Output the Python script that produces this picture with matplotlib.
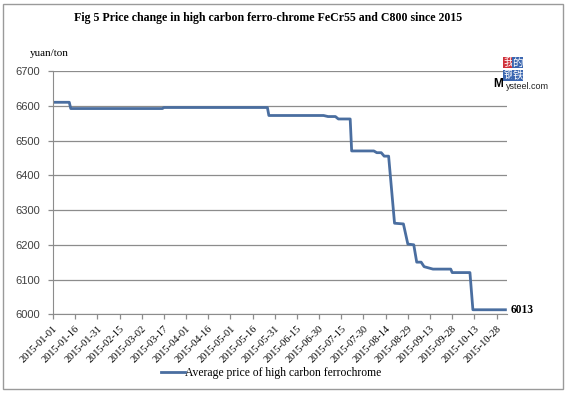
import numpy as np
import matplotlib
matplotlib.use("Agg")
import matplotlib.pyplot as plt
import matplotlib.dates as mdates
from matplotlib.patches import Rectangle

# step points of the average price (yuan/ton)
dates = ["2015-01-01", "2015-01-12", "2015-01-13", "2015-03-16", "2015-03-17",
         "2015-05-26", "2015-05-27", "2015-07-03", "2015-07-06", "2015-07-11",
         "2015-07-13", "2015-07-21", "2015-07-22", "2015-08-06", "2015-08-08",
         "2015-08-11", "2015-08-13", "2015-08-16", "2015-08-20", "2015-08-26",
         "2015-08-29", "2015-09-02", "2015-09-04", "2015-09-07", "2015-09-09",
         "2015-09-15", "2015-09-27", "2015-09-28", "2015-10-10", "2015-10-12",
         "2015-11-03"]
prices = [6610, 6610, 6592, 6592, 6595,
          6595, 6572, 6572, 6569, 6569,
          6562, 6562, 6470, 6470, 6465,
          6465, 6455, 6455, 6262, 6260,
          6202, 6200, 6150, 6150, 6137,
          6130, 6130, 6120, 6120, 6013,
          6013]
y_ticks = [6000, 6100, 6200, 6300, 6400, 6500, 6600, 6700]
series_name = "Average price of high carbon ferrochrome"
title = "Fig 5 Price change in high carbon ferro-chrome FeCr55 and C800 since 2015"

serif = ["Liberation Serif", "DejaVu Serif"]
sans = ["Liberation Sans", "DejaVu Sans"]

x = np.array(dates, dtype="datetime64[D]")
x_ticks = np.arange(np.datetime64("2015-01-01"), np.datetime64("2015-10-29"), 15)

fig = plt.figure(figsize=(5.67, 3.93), dpi=100)
ax = fig.add_axes([0.0935, 0.2003, 0.8005, 0.619])

line, = ax.plot(x, prices, color="#4a6ea0", lw=2.0, label=series_name)

ax.set_ylim(6000, 6700)
ax.set_yticks(y_ticks)
ax.set_xlim(np.datetime64("2015-01-01"), np.datetime64("2015-11-04"))
ax.set_xticks(x_ticks)
ax.xaxis.set_major_formatter(mdates.DateFormatter("%Y-%m-%d"))

ax.grid(axis="y", color="#8c8c8c", lw=0.9)
ax.set_axisbelow(True)
for s in ["top", "right"]:
    ax.spines[s].set_visible(False)
ax.spines["left"].set_color("#8c8c8c")
ax.spines["bottom"].set_color("#8c8c8c")
ax.tick_params(axis="both", color="#8c8c8c", length=3.5, width=0.9)
ax.tick_params(axis="y", pad=6)

for lab in ax.get_yticklabels():
    lab.set_family(sans)
    lab.set_fontsize(8)
    lab.set_color("#404040")
for lab in ax.get_xticklabels():
    lab.set_family(serif)
    lab.set_fontsize(7.5)
    lab.set_rotation(45)
    lab.set_ha("right")
    lab.set_rotation_mode("anchor")

# end value label
ax.annotate(str(prices[-1]), xy=(x[-1], prices[-1]), xytext=(4, 0),
            textcoords="offset points", va="center", ha="left",
            fontsize=8.3, family=serif, fontweight="bold")

fig.text(0.473, 0.953, title, ha="center", va="center", fontsize=8.6,
         fontweight="bold", family=serif)
fig.text(0.053, 0.865, "yuan/ton", ha="left", va="center", fontsize=8, family=serif)

fig.legend(handles=[line], loc="center left", bbox_to_anchor=(0.266, 0.051),
           frameon=False, handlelength=2.0, handletextpad=0.05,
           prop={"family": serif, "size": 8.4})

# Mysteel logo
logo = [("我", 0.897, 0.840, "#d0303a"), ("的", 0.913, 0.840, "#3a66b0"),
        ("钢", 0.897, 0.809, "#3a66b0"), ("铁", 0.913, 0.809, "#3a66b0")]
for ch, lx, ly, c in logo:
    fig.text(lx, ly, ch, color="white", fontsize=7.5, ha="center", va="center",
             family="Noto Sans CJK SC",
             bbox=dict(boxstyle="square,pad=0.05", fc=c, ec="none"))
fig.text(0.87, 0.785, "M", fontsize=8.5, fontweight="bold", family=sans, ha="left", va="center")
fig.text(0.893, 0.781, "ysteel.com", fontsize=6.5, family=sans, ha="left", va="center", color="#222222")

# chart frame
fig.patches.append(Rectangle((0.005, 0.011), 0.988, 0.98, transform=fig.transFigure,
                             fill=False, ec="#9a9a9a", lw=1.0))

fig.savefig("out.png", dpi=100)
